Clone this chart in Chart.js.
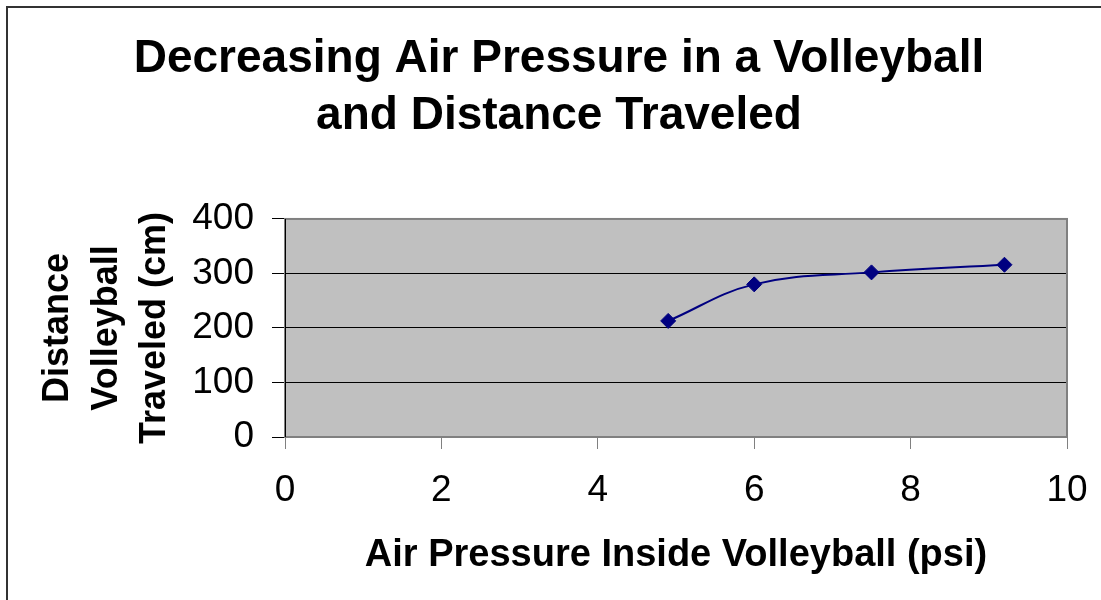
<!DOCTYPE html>
<html><head><meta charset="utf-8">
<script src="https://cdn.jsdelivr.net/npm/chart.js@4/dist/chart.umd.min.js"></script>
<style>
html,body{margin:0;padding:0;overflow:hidden;background:#fff;width:1101px;height:600px;}
#wrap{position:absolute;left:0;top:0;width:1118px;height:600px;}
canvas{display:block;}
</style></head><body>
<div id="wrap"><canvas id="c" width="1118" height="600" style="width:1118px;height:600px"></canvas></div>
<script>
// ---- data ----
const titleLines = ['Decreasing Air Pressure in a Volleyball', 'and Distance Traveled'];
const xAxisTitle = 'Air Pressure Inside Volleyball (psi)';
const yAxisTitle = ['Distance', 'Volleyball', 'Traveled (cm)'];
const pressurePsi = [4.9, 6.0, 7.5, 9.2];
const distanceCm = [213, 280, 302, 316];
const xTicks = [0, 2, 4, 6, 8, 10];
const yTicks = [0, 100, 200, 300, 400];

const FONT = "'Liberation Sans', Arial, Helvetica, sans-serif";
Chart.defaults.font.family = FONT;
Chart.defaults.color = '#000';

const framePlugin = {
  id: 'frame',
  beforeDraw(chart) {
    const {ctx, chartArea: a, width, height} = chart;
    ctx.save();
    ctx.fillStyle = '#fff';
    ctx.fillRect(0, 0, width, height);
    ctx.fillStyle = '#C0C0C0';
    ctx.fillRect(a.left, a.top, a.right - a.left, a.bottom - a.top);
    ctx.strokeStyle = '#333';
    ctx.lineWidth = 2;
    ctx.beginPath();
    ctx.moveTo(7, height + 5);
    ctx.lineTo(7, 7);
    ctx.lineTo(width + 5, 7);
    ctx.stroke();
    ctx.restore();
  },
  beforeDatasetsDraw(chart) {
    const {ctx, chartArea: a} = chart;
    ctx.save();
    ctx.strokeStyle = '#808080';
    ctx.lineWidth = 2;
    ctx.strokeRect(a.left, a.top, a.right - a.left, a.bottom - a.top);
    ctx.strokeStyle = '#000';
    ctx.lineWidth = 1;
    ctx.beginPath();
    ctx.moveTo(a.left + 0.5, a.top);
    ctx.lineTo(a.left + 0.5, a.bottom);
    ctx.stroke();
    ctx.restore();
  }
};

new Chart(document.getElementById('c'), {
  type: 'scatter',
  data: {
    datasets: [{
      data: pressurePsi.map((x, i) => ({x: x, y: distanceCm[i]})),
      showLine: true,
      borderColor: '#000080',
      borderWidth: 2,
      tension: 0.4,
      pointStyle: 'rectRot',
      pointRadius: 7.5,
      pointBackgroundColor: '#000080',
      pointBorderColor: '#000080',
      pointBorderWidth: 1
    }]
  },
  options: {
    responsive: false,
    animation: false,
    layout: {padding: 0},
    plugins: {
      legend: {display: false},
      tooltip: {enabled: false},
      title: {
        display: true,
        text: titleLines,
        color: '#000',
        font: {family: FONT, size: 46, weight: 'bold', lineHeight: 1.243},
        padding: {top: 31, bottom: 73.6}
      }
    },
    scales: {
      x: {
        type: 'linear',
        min: 0, max: 10,
        afterBuildTicks(s) { s.ticks = xTicks.map(v => ({value: v})); },
        afterFit(s) { s.height = 163; },
        ticks: {font: {size: 37}, color: '#000', padding: 20, autoSkip: false, maxRotation: 0},
        grid: {drawOnChartArea: false, drawTicks: true, tickLength: 12, tickColor: '#808080', tickWidth: 1},
        border: {display: false},
        title: {
          display: true, text: xAxisTitle, color: '#000',
          font: {size: 38, weight: 'bold', lineHeight: 1.2},
          padding: {top: 0, bottom: 21.5}
        }
      },
      y: {
        type: 'linear',
        min: 0, max: 400,
        afterBuildTicks(s) { s.ticks = yTicks.map(v => ({value: v})); },
        afterFit(s) { s.width = 285; },
        ticks: {font: {size: 37}, color: '#000', padding: 18},
        grid: {color: '#000', lineWidth: 1, tickLength: 13, tickColor: '#000', tickWidth: 1},
        border: {display: false},
        title: {
          display: true, text: yAxisTitle, color: '#000',
          font: {size: 36, weight: 'bold', lineHeight: 1.35},
          padding: {top: 34, bottom: 0}
        }
      },
      yRightSpacer: {
        type: 'linear',
        position: 'right',
        min: 0, max: 400,
        afterFit(s) { s.width = 51; },
        ticks: {display: false},
        grid: {display: false, drawOnChartArea: false},
        border: {display: false},
        title: {display: false}
      }
    }
  },
  plugins: [framePlugin]
});
</script>
</body></html>
